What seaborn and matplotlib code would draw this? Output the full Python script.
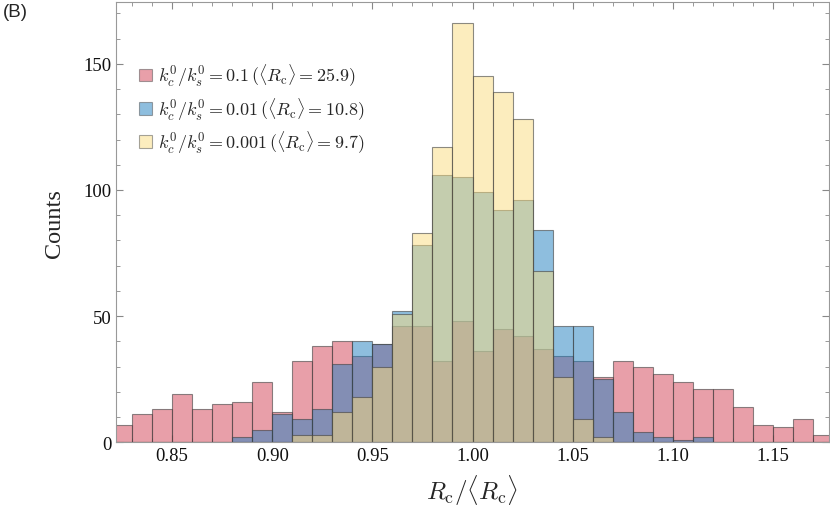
import matplotlib
matplotlib.use("Agg")
import matplotlib.pyplot as plt
import seaborn as sns
import numpy as np
import pandas as pd
from matplotlib.patches import Patch
from matplotlib.ticker import MultipleLocator

# bins of width 0.01, left edges 0.82 ... 1.17
bin_left = np.round(np.arange(0.82, 1.175, 0.01), 2)
bin_edges = list(np.append(bin_left, 1.18))

# counts per bin
counts_01 = [7, 11, 13, 19, 13, 15, 16, 24, 12, 32, 38, 40, 34, 39, 46, 46, 32, 48,
             36, 45, 42, 37, 34, 32, 26, 32, 30, 27, 24, 21, 21, 14, 7, 6, 9, 3]
counts_001 = [0, 0, 0, 0, 0, 0, 2, 5, 11, 9, 13, 31, 40, 39, 52, 78, 106, 105,
              99, 92, 96, 84, 46, 46, 25, 12, 4, 2, 1, 2, 0, 0, 0, 0, 0, 0]
counts_0001 = [0, 0, 0, 0, 0, 0, 0, 0, 0, 3, 3, 12, 18, 30, 51, 83, 117, 166,
               145, 139, 128, 68, 26, 9, 2, 0, 0, 0, 0, 0, 0, 0, 0, 0, 0, 0]

labels = [
    r"$k_c^0/k_s^0 = 0.1\,(\langle R_\mathrm{c}\rangle = 25.9)$",
    r"$k_c^0/k_s^0 = 0.01\,(\langle R_\mathrm{c}\rangle = 10.8)$",
    r"$k_c^0/k_s^0 = 0.001\,(\langle R_\mathrm{c}\rangle = 9.7)$",
]
couleurs = ["#d34155", "#1f7fbf", "#fbdd7f"]
bord = (0.25, 0.25, 0.25, 0.6)

sns.set_style("ticks")
plt.rcParams["font.family"] = ["Liberation Serif", "DejaVu Serif"]
plt.rcParams["mathtext.fontset"] = "cm"

fig = plt.figure(figsize=(8.3, 5.1), dpi=100)
ax = fig.add_axes([0.1398, 0.131, 0.859, 0.863])

for serie, c in zip([counts_01, counts_001, counts_0001], couleurs):
    df = pd.DataFrame({"centre": bin_left + 0.005, "n": serie})
    sns.histplot(data=df, x="centre", weights="n", bins=bin_edges, color=c, alpha=0.5,
                 edgecolor=bord, linewidth=0.8, ax=ax)

ax.set_xlim(0.822, 1.178)
ax.set_ylim(0, 174.5)
ax.xaxis.set_major_locator(MultipleLocator(0.05))
ax.xaxis.set_minor_locator(MultipleLocator(0.01))
ax.yaxis.set_major_locator(MultipleLocator(50))
ax.yaxis.set_minor_locator(MultipleLocator(10))
ax.xaxis.set_major_formatter(matplotlib.ticker.FormatStrFormatter("%.2f"))

ax.tick_params(which="both", direction="in", top=True, right=True,
               color="#888888", labelsize=13.5, labelcolor="#111111")
ax.tick_params(which="major", length=5, width=0.8)
ax.tick_params(which="minor", length=2.8, width=0.6)
for sp in ax.spines.values():
    sp.set_color("#999999")
    sp.set_linewidth(0.8)

ax.set_xlabel(r"$R_\mathrm{c}/\langle R_\mathrm{c}\rangle$", fontsize=18, labelpad=6)
ax.set_ylabel("Counts", fontsize=17.5, labelpad=13)

poignees = [Patch(facecolor=c, alpha=0.5, edgecolor=(0.3, 0.3, 0.3), linewidth=0.8)
            for c in couleurs]
ax.legend(poignees, labels, loc="upper left", bbox_to_anchor=(0.0225, 0.881),
          frameon=False, fontsize=13, handlelength=0.7, handleheight=0.7,
          handletextpad=0.35, labelspacing=0.38, borderaxespad=0)

fig.text(0.003, 0.992, "(B)", fontsize=13.5, family="Liberation Sans", va="top", ha="left")

fig.savefig("out.png", dpi=100)
plt.close()
